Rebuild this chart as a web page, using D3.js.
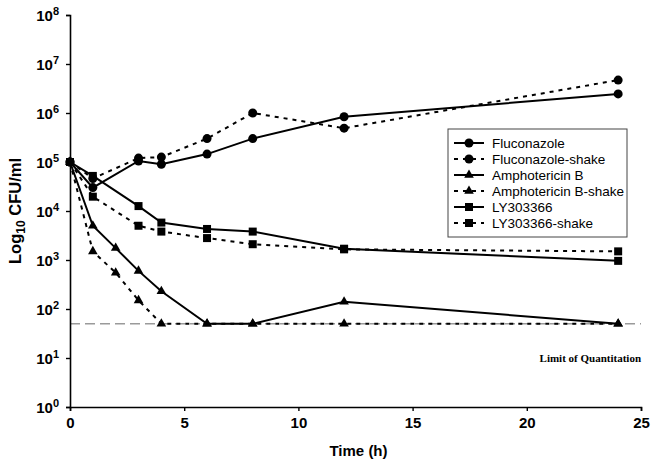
<!DOCTYPE html>
<html>
<head>
<meta charset="utf-8">
<script src="https://cdn.jsdelivr.net/npm/d3@7"></script>
<style>
  body { margin: 0; background: #fff; }
  svg { font-family: Arial, "Liberation Sans", sans-serif; }
</style>
</head>
<body>
<div id="chart"></div>
<script>
// time points (h)
var times = [0, 1, 2, 3, 4, 6, 8, 12, 24];

var fluconazole      = [[0, 1e5], [1, 3e4], [3, 1.05e5], [4, 9e4], [6, 1.45e5], [8, 3e5], [12, 8.4e5], [24, 2.45e6]];
var fluconazoleShake = [[0, 1e5], [1, 4.6e4], [3, 1.2e5], [4, 1.26e5], [6, 3e5], [8, 1e6], [12, 4.9e5], [24, 4.7e6]];
var amphoB           = [[0, 1e5], [1, 5e3], [2, 1.75e3], [3, 600], [4, 230], [6, 50], [8, 50], [12, 140], [24, 50]];
var amphoBShake      = [[0, 1e5], [1, 1.5e3], [2, 550], [3, 150], [4, 50], [6, 50], [8, 50], [12, 50], [24, 50]];
var ly303366         = [[0, 1e5], [1, 5.2e4], [3, 1.26e4], [4, 5.8e3], [6, 4.3e3], [8, 3.8e3], [12, 1.7e3], [24, 960]];
var ly303366Shake    = [[0, 1e5], [1, 1.96e4], [3, 5e3], [4, 3.8e3], [6, 2.8e3], [8, 2.1e3], [12, 1.65e3], [24, 1.5e3]];

var seriesNames = ["Fluconazole", "Fluconazole-shake", "Amphotericin B", "Amphotericin B-shake", "LY303366", "LY303366-shake"];
var seriesData = [fluconazole, fluconazoleShake, amphoB, amphoBShake, ly303366, ly303366Shake];
var seriesMarker = ["circle", "circle", "triangle", "triangle", "square", "square"];
var seriesDashed = [false, true, false, true, false, true];

var xTicks = [0, 5, 10, 15, 20, 25];
var yExponents = [0, 1, 2, 3, 4, 5, 6, 7, 8];
var limitOfQuant = 50;

var width = 655, height = 470;
var margin = { top: 15, right: 14, bottom: 63, left: 70 };

var svg = d3.select("#chart").append("svg")
    .attr("width", width)
    .attr("height", height);

var x = d3.scaleLinear().domain([0, 25]).range([margin.left, width - margin.right]);
var y = d3.scaleLog().domain([1, 1e8]).range([height - margin.bottom, margin.top]);

// limit of quantitation line
svg.append("line")
    .attr("x1", x(0)).attr("x2", x(25))
    .attr("y1", y(limitOfQuant)).attr("y2", y(limitOfQuant))
    .attr("stroke", "#9a9a9a")
    .attr("stroke-width", 1.5)
    .attr("stroke-dasharray", "10,5");

svg.append("text")
    .attr("x", x(25))
    .attr("y", y(limitOfQuant) + 38)
    .attr("text-anchor", "end")
    .attr("font-family", "'Liberation Serif', 'Times New Roman', serif")
    .attr("font-weight", "bold")
    .attr("font-size", 11)
    .text("Limit of Quantitation");

// axes
var xAxis = svg.append("g")
    .attr("transform", "translate(0," + y(1) + ")")
    .call(d3.axisBottom(x).tickValues(xTicks).tickSize(4).tickPadding(6));
var yAxis = svg.append("g")
    .attr("transform", "translate(" + x(0) + ",0)")
    .call(d3.axisLeft(y).tickValues(yExponents.map(function (e) { return Math.pow(10, e); }))
        .tickSize(4).tickPadding(8).tickFormat(""));

[xAxis, yAxis].forEach(function (a) {
    a.select(".domain").attr("stroke", "#000").attr("stroke-width", 1.6);
    a.selectAll(".tick line").attr("stroke", "#000").attr("stroke-width", 1.4);
});
xAxis.selectAll(".tick text")
    .attr("font-size", 15).attr("font-weight", "bold").attr("fill", "#000")
    .attr("font-family", "Arial, 'Liberation Sans', sans-serif");

// y tick labels with superscripts
var yLab = svg.append("g").selectAll("text").data(yExponents).enter().append("text")
    .attr("x", x(0) - 11)
    .attr("y", function (d) { return y(Math.pow(10, d)) + 6; })
    .attr("text-anchor", "end")
    .attr("font-size", 15)
    .attr("font-weight", "bold");
yLab.append("tspan").text("10");
yLab.append("tspan").attr("dy", -6).attr("font-size", 11).text(function (d) { return d; });

// axis titles
svg.append("text")
    .attr("x", (x(0) + x(25)) / 2 + 3)
    .attr("y", 456)
    .attr("text-anchor", "middle")
    .attr("font-size", 15)
    .attr("font-weight", "bold")
    .text("Time (h)");

var yTitle = svg.append("text")
    .attr("transform", "translate(21," + ((y(1) + y(1e8)) / 2) + ") rotate(-90)")
    .attr("text-anchor", "middle")
    .attr("font-size", 16.5)
    .attr("font-weight", "bold");
yTitle.append("tspan").text("Log");
yTitle.append("tspan").attr("dy", 4).attr("font-size", 12).text("10");
yTitle.append("tspan").attr("dy", -4).text(" CFU/ml");

// markers
function drawMarker(g, type, cx, cy) {
    if (type === "circle") {
        g.append("circle").attr("cx", cx).attr("cy", cy).attr("r", 4.5).attr("fill", "#000");
    } else if (type === "square") {
        g.append("rect").attr("x", cx - 4).attr("y", cy - 4).attr("width", 8).attr("height", 8).attr("fill", "#000");
    } else {
        g.append("path").attr("d", d3.symbol().type(d3.symbolTriangle).size(40)())
            .attr("transform", "translate(" + cx + "," + cy + ")").attr("fill", "#000");
    }
}

var line = d3.line().x(function (d) { return x(d[0]); }).y(function (d) { return y(d[1]); });

seriesData.forEach(function (data, i) {
    var g = svg.append("g");
    g.append("path")
        .datum(data)
        .attr("d", line)
        .attr("fill", "none")
        .attr("stroke", "#000")
        .attr("stroke-width", 2)
        .attr("stroke-dasharray", seriesDashed[i] ? "4,5" : null);
    data.forEach(function (d) { drawMarker(g, seriesMarker[i], x(d[0]), y(d[1])); });
});

// legend
var lg = svg.append("g").attr("transform", "translate(448,129)");
lg.append("rect").attr("width", 179).attr("height", 108)
    .attr("fill", "#fff").attr("stroke", "#444").attr("stroke-width", 1);
seriesNames.forEach(function (name, i) {
    var yy = 14 + i * 16;
    lg.append("line")
        .attr("x1", 6).attr("x2", 36).attr("y1", yy).attr("y2", yy)
        .attr("stroke", "#000").attr("stroke-width", 2)
        .attr("stroke-dasharray", seriesDashed[i] ? "4,5" : null);
    drawMarker(lg, seriesMarker[i], 21, yy);
    lg.append("text")
        .attr("x", 44).attr("y", yy + 5)
        .attr("font-size", 13.5)
        .text(name);
});
</script>
</body>
</html>
